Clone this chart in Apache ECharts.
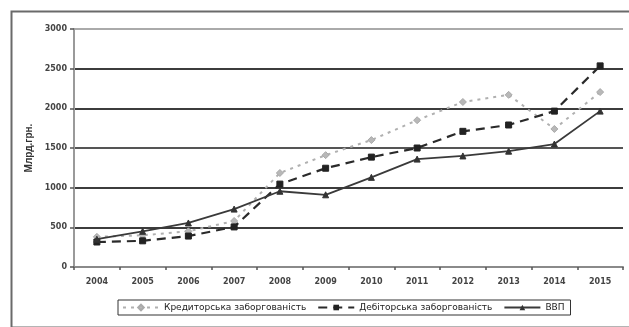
<!DOCTYPE html>
<html>
<head>
<meta charset="utf-8">
<script src="https://cdn.jsdelivr.net/npm/echarts@6/dist/echarts.min.js"></script>
<style>
  html, body { margin: 0; padding: 0; background: #fff; }
  #chart { width: 629px; height: 327px; }
</style>
</head>
<body>
<div id="chart"></div>
<script>
// Years on the category axis
const years = ['2004', '2005', '2006', '2007', '2008', '2009', '2010', '2011', '2012', '2013', '2014', '2015'];

// Accounts payable, bn UAH
const payables = [380, 400, 450, 580, 1185, 1410, 1600, 1850, 2080, 2170, 1740, 2205];
// Accounts receivable, bn UAH
const receivables = [315, 330, 390, 505, 1045, 1245, 1385, 1500, 1710, 1790, 1965, 2535];
// GDP, bn UAH
const gdp = [350, 450, 555, 730, 955, 910, 1130, 1360, 1400, 1460, 1550, 1965];

// Value axis ticks
const yTicks = [0, 500, 1000, 1500, 2000, 2500, 3000];

const names = ['Кредиторська заборгованість', 'Дебіторська заборгованість', 'ВВП'];

const chart = echarts.init(document.getElementById('chart'));
const font = 'Arial, "Liberation Sans", sans-serif';
const wideFont = '"DejaVu Sans", Verdana, sans-serif';

chart.setOption({
  animation: false,
  backgroundColor: '#fff',
  graphic: [{
    type: 'rect',
    left: 9, top: 9,
    shape: { width: 640, height: 316 },
    style: { fill: 'none', stroke: '#6a6a6a', lineWidth: 2 },
    silent: true
  }],
  grid: { left: 74, right: 6, top: 29, bottom: 60 },
  legend: {
    left: 118, top: 300,
    itemGap: 11,
    itemWidth: 36, itemHeight: 7,
    padding: [3, 6, 3, 4],
    borderColor: '#333', borderWidth: 1,
    textStyle: { fontFamily: wideFont, fontSize: 9, color: '#222' },
    data: names
  },
  xAxis: {
    type: 'category',
    data: years,
    boundaryGap: true,
    axisLine: { lineStyle: { color: '#8a8a8a', width: 2 } },
    axisTick: { show: true, length: 3, lineStyle: { color: '#555', width: 1.5 } },
    axisLabel: { fontFamily: wideFont, fontSize: 8, fontWeight: 'bold', color: '#444', margin: 11 }
  },
  yAxis: {
    type: 'value',
    min: yTicks[0], max: yTicks[yTicks.length - 1], interval: 500,
    name: 'Млрд.грн.',
    nameLocation: 'middle',
    nameRotate: 90,
    nameGap: 38,
    nameTextStyle: { fontFamily: font, fontSize: 10, fontWeight: 'bold', color: '#333' },
    axisLine: { show: true, lineStyle: { color: '#9a9a9a', width: 2 } },
    axisTick: { show: true, length: 4, lineStyle: { color: '#555', width: 1.5 } },
    axisLabel: {
      fontFamily: wideFont, fontSize: 8, fontWeight: 'bold', color: '#444', margin: 7,
      formatter: v => String(v)
    },
    splitLine: { lineStyle: { color: ['#555', '#3c3c3c', '#3c3c3c', '#555', '#3c3c3c', '#3c3c3c', '#aaa'], width: 2 } }
  },
  series: [
    {
      name: names[0],
      type: 'line',
      data: payables,
      symbol: 'diamond', symbolSize: 7,
      itemStyle: { color: '#b8b8b8', borderColor: '#aaa', borderWidth: 1 },
      lineStyle: { color: '#b0b0b0', width: 2, type: [3, 5] },
      z: 3
    },
    {
      name: names[1],
      type: 'line',
      data: receivables,
      symbol: 'rect', symbolSize: 6,
      itemStyle: { color: '#222', borderColor: '#222' },
      lineStyle: { color: '#2a2a2a', width: 2.2, type: [9, 6] },
      z: 4
    },
    {
      name: names[2],
      type: 'line',
      data: gdp,
      symbol: 'triangle', symbolSize: 6,
      itemStyle: { color: '#333', borderColor: '#333' },
      lineStyle: { color: '#3a3a3a', width: 1.8 },
      z: 5
    }
  ]
});
</script>
</body>
</html>
